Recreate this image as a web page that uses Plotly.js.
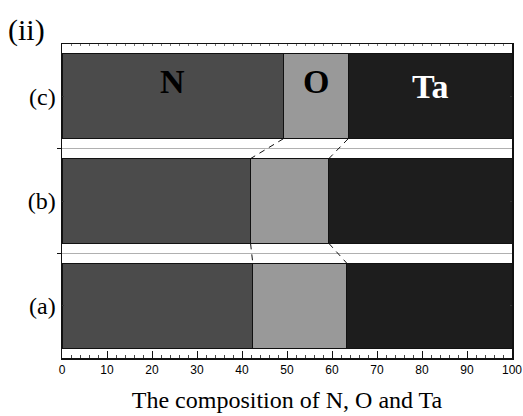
<!DOCTYPE html>
<html>
<head>
<meta charset="utf-8">
<script src="https://cdn.plot.ly/plotly-3.0.1.min.js"></script>
<style>html,body{margin:0;padding:0;background:#fff}#chart{width:523px;height:416px}</style>
</head>
<body>
<div id="chart"></div>
<script>
// Data
var samples = ['(a)', '(b)', '(c)'];
var samplePos = [0, 1, 2];
var nVals = [42.4, 41.9, 49.2];
var oVals = [20.9, 17.4, 14.4];
var taVals = [36.7, 40.7, 36.4];
var elementNames = ['N', 'O', 'Ta'];
var xTickVals = [0, 10, 20, 30, 40, 50, 60, 70, 80, 90, 100];

var colors = ['#4b4b4b', '#999999', '#1d1d1d'];
var barW = 0.81;
var half = barW / 2;
var serif = 'Liberation Serif, Times New Roman, serif';

var series = [nVals, oVals, taVals];
var traces = series.map(function (vals, k) {
  return {
    type: 'bar', orientation: 'h', name: elementNames[k],
    x: vals, y: samplePos, width: barW,
    marker: {color: colors[k], line: {color: '#111', width: 1}},
    hoverinfo: 'x+name', showlegend: false
  };
});

// cumulative boundaries
var b1 = nVals.slice();
var b2 = nVals.map(function (v, i) { return v + oVals[i]; });

// dashed connectors between neighbouring bars
var cx = [], cy = [];
for (var i = samplePos.length - 1; i > 0; i--) {
  [b1, b2].forEach(function (b) {
    cx.push(b[i], b[i - 1], null);
    cy.push(samplePos[i] - half, samplePos[i - 1] + half, null);
  });
}
traces.push({
  type: 'scatter', mode: 'lines', x: cx, y: cy, xaxis: 'x2', yaxis: 'y2',
  line: {color: '#111', width: 1, dash: '6px,5px'},
  hoverinfo: 'skip', showlegend: false
});

// labels inside top bar
var topIdx = samplePos.length - 1;
var centers = [nVals[topIdx] / 2, b1[topIdx] + oVals[topIdx] / 2, b2[topIdx] + taVals[topIdx] / 2];
var labelOffsets = [0.14, 0.14, 0.09];
var labelColors = ['#000', '#000', '#fff'];
var annotations = elementNames.map(function (t, k) {
  return {
    x: centers[k], y: samplePos[topIdx] + labelOffsets[k], xref: 'x', yref: 'y',
    text: '<b>' + t + '</b>', showarrow: false,
    font: {family: serif, size: 34, color: labelColors[k]}
  };
});

var layout = {
  width: 523, height: 416,
  margin: {l: 62, r: 11, t: 44, b: 58},
  paper_bgcolor: '#fff', plot_bgcolor: '#fff',
  barmode: 'stack', bargap: 0,
  title: {
    text: '(ii)', xref: 'container', yref: 'container',
    x: 8 / 523, xanchor: 'left', y: 1 - 29 / 416, yanchor: 'middle',
    font: {family: serif, size: 30, color: '#000'}
  },
  xaxis: {
    range: [0, 100], tickvals: xTickVals, ticks: 'inside', ticklen: 7, tickwidth: 1,
    tickcolor: '#111', showline: true, linecolor: '#111', linewidth: 1.5, mirror: true,
    showgrid: false, zeroline: false,
    minor: {dtick: 2, ticks: 'inside', ticklen: 3.5, tickcolor: '#444', showgrid: false},
    tickfont: {family: 'Liberation Sans, Arial, sans-serif', size: 12, color: '#000'},
    title: {text: 'The composition of N, O and Ta', standoff: 15,
            font: {family: serif, size: 24, color: '#000'}}
  },
  xaxis2: {
    overlaying: 'x', side: 'top', range: [0, 100], dtick: 2, ticks: 'inside',
    ticklen: 2, tickcolor: '#777', showticklabels: false, showgrid: false,
    zeroline: false, showline: false
  },
  yaxis: {
    range: [-0.5, 2.5], tickvals: samplePos, ticktext: samples,
    ticks: 'inside', ticklen: 2, tickcolor: '#333', showline: true, linecolor: '#111',
    linewidth: 1.5, mirror: 'ticks', showgrid: false, zeroline: false,
    tickfont: {family: serif, size: 24, color: '#000'}
  },
  yaxis2: {
    overlaying: 'y', side: 'left', range: [-0.5, 2.5], tickvals: [0.5, 1.5],
    ticks: 'outside', ticklen: 4, tickcolor: '#111', showticklabels: false,
    showgrid: true, gridcolor: '#b0b0b0', gridwidth: 1, zeroline: false, showline: false
  },
  annotations: annotations
};

Plotly.newPlot('chart', traces, layout, {displayModeBar: false, staticPlot: true});
</script>
</body>
</html>
